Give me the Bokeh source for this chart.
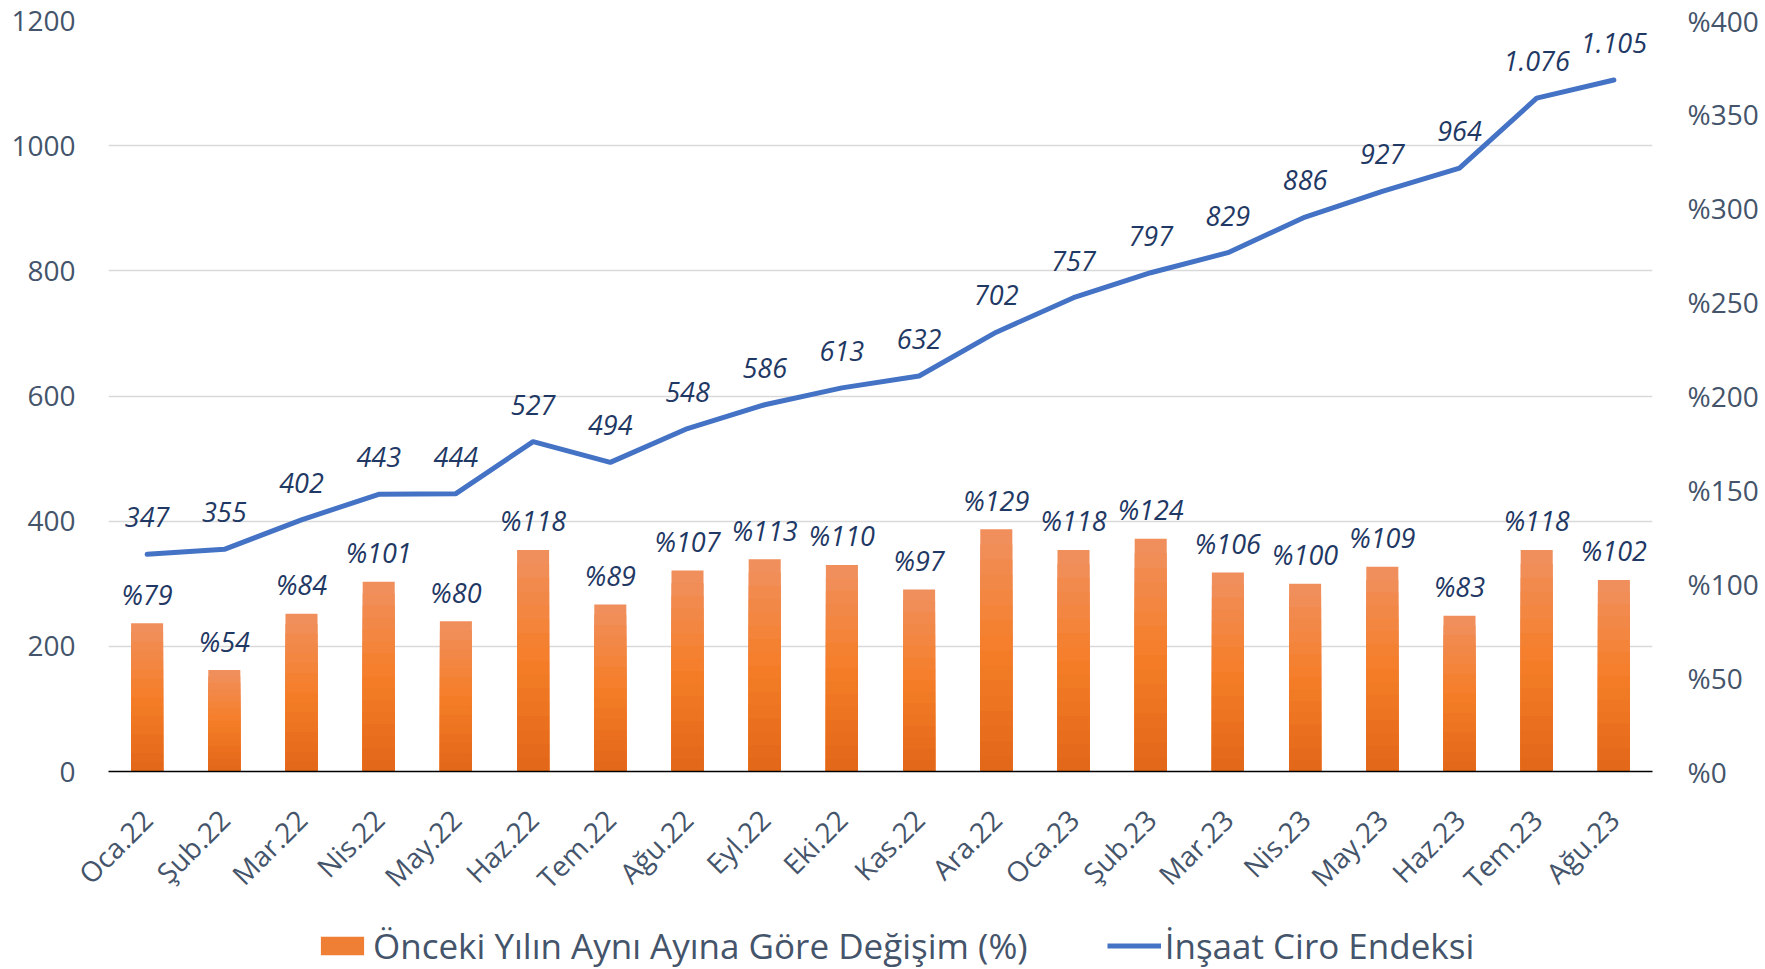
import math
from bokeh.plotting import figure
from bokeh.layouts import column
from bokeh.models import (Range1d, LinearAxis, FixedTicker, ColumnDataSource,
                          Legend, LegendItem, FactorRange)
from bokeh.core.properties import value
from bokeh.embed import file_html
from bokeh.resources import INLINE

# ---------------- data ----------------
categories = ["Oca.22", "Şub.22", "Mar.22", "Nis.22", "May.22", "Haz.22", "Tem.22",
              "Ağu.22", "Eyl.22", "Eki.22", "Kas.22", "Ara.22", "Oca.23", "Şub.23",
              "Mar.23", "Nis.23", "May.23", "Haz.23", "Tem.23", "Ağu.23"]
yoy_change_pct = [79, 54, 84, 101, 80, 118, 89, 107, 113, 110, 97, 129,
                  118, 124, 106, 100, 109, 83, 118, 102]
ciro_index = [347, 355, 402, 443, 444, 527, 494, 548, 586, 613, 632, 702,
              757, 797, 829, 886, 927, 964, 1076, 1105]
left_ticks = [0, 200, 400, 600, 800, 1000, 1200]
right_ticks = [0, 50, 100, 150, 200, 250, 300, 350, 400]
bar_series_name = "Önceki Yılın Aynı Ayına Göre Değişim (%)"
line_series_name = "İnşaat Ciro Endeksi"

FONT = "Open Sans"
AXIS_COLOR = "#44546A"
LABEL_COLOR = "#1F3864"
LINE_COLOR = "#4472C4"
BAR_LEGEND_COLOR = "#F07F36"


def tr_thousands(n):
    return f"{n:,}".replace(",", ".")


def lerp(c1, c2, t):
    return tuple(int(round(a + (b - a) * t)) for a, b in zip(c1, c2))


def hexc(c):
    return "#%02x%02x%02x" % c


W = 1765
BL, BR = 108, 113
p = figure(width=W, height=915, x_range=FactorRange(*categories),
           y_range=Range1d(0, 1200), output_backend="svg", toolbar_location=None,
           min_border_left=BL, min_border_right=BR, min_border_top=20,
           min_border_bottom=144)
p.outline_line_color = None
p.extra_y_ranges = {"pct": Range1d(0, 400)}

# ---------------- bars (gradient by overlapping bands) ----------------
N = 16
c_bottom = (226, 102, 24)
c_mid = (245, 126, 40)
c_top = (240, 144, 96)
for k in range(N - 1, -1, -1):
    t = (k + 0.5) / N  # 0 bottom, 1 top
    if t < 0.5:
        col = lerp(c_bottom, c_mid, t / 0.5)
    else:
        col = lerp(c_mid, c_top, (t - 0.5) / 0.5)
    src = ColumnDataSource(dict(x=categories,
                                top=[v * (k + 1) / N for v in yoy_change_pct]))
    p.vbar(x="x", top="top", bottom=0, width=0.415, source=src,
           y_range_name="pct", fill_color=hexc(col), line_color=None)

# ---------------- line ----------------
p.line(x=categories, y=ciro_index, line_color=LINE_COLOR, line_width=5,
       line_join="round", line_cap="round")

# ---------------- data labels ----------------
p.text(x=categories, y=ciro_index, text=[tr_thousands(v) for v in ciro_index],
       text_align="center", text_baseline="alphabetic", y_offset=-37,
       text_font=value(FONT), text_font_style="italic", text_font_size="27px",
       text_color=LABEL_COLOR)
p.text(x=categories, y=yoy_change_pct, y_range_name="pct",
       text=[f"%{v}" for v in yoy_change_pct],
       text_align="center", text_baseline="alphabetic", y_offset=-29,
       text_font=value(FONT), text_font_style="italic", text_font_size="27px",
       text_color=LABEL_COLOR)

# ---------------- axes ----------------
yl = p.yaxis[0]
yl.ticker = FixedTicker(ticks=left_ticks)
yl.axis_line_color = None
yl.major_tick_line_color = None
yl.minor_tick_line_color = None
yl.major_label_standoff = 27
yl.major_label_text_font = FONT
yl.major_label_text_font_size = "28px"
yl.major_label_text_color = AXIS_COLOR

yr = LinearAxis(y_range_name="pct", ticker=FixedTicker(ticks=right_ticks),
                major_label_overrides={v: f"%{v}" for v in right_ticks})
yr.axis_line_color = None
yr.major_tick_line_color = None
yr.minor_tick_line_color = None
yr.major_label_standoff = 29
yr.major_label_text_font = FONT
yr.major_label_text_font_size = "28px"
yr.major_label_text_color = AXIS_COLOR
p.add_layout(yr, "right")

xa = p.xaxis[0]
xa.axis_line_color = "black"
xa.axis_line_width = 1.5
xa.major_tick_line_color = None
xa.minor_tick_line_color = None
xa.major_label_orientation = math.pi / 4
xa.major_label_standoff = 37
xa.major_label_text_font = FONT
xa.major_label_text_font_size = "28px"
xa.major_label_text_color = AXIS_COLOR

p.xgrid.grid_line_color = None
p.ygrid.ticker = FixedTicker(ticks=left_ticks)
p.ygrid.grid_line_color = "#D9D9D9"
p.ygrid.grid_line_width = 1.5

# ---------------- legend (separate strip below the chart) ----------------
pl = figure(width=W, height=54, x_range=Range1d(0, 1), y_range=Range1d(0, 1),
            x_axis_type=None, y_axis_type=None, output_backend="svg",
            toolbar_location=None, min_border_left=BL, min_border_right=BR,
            min_border_top=0, min_border_bottom=0)
pl.outline_line_color = None
pl.grid.grid_line_color = None
leg_bar = pl.vbar(x=[-5], top=[-5], bottom=[-6], width=0.1,
                  fill_color=BAR_LEGEND_COLOR, line_color=None)
leg_line = pl.line(x=[-5, -4], y=[-5, -5], line_color=LINE_COLOR, line_width=5)
legend = Legend(items=[LegendItem(label=bar_series_name, renderers=[leg_bar]),
                       LegendItem(label=line_series_name, renderers=[leg_line])],
                orientation="horizontal", location=(207, 0),
                padding=0, margin=0, spacing=79, label_standoff=4,
                glyph_width=54, glyph_height=23, border_line_color=None,
                background_fill_alpha=0,
                label_text_font=FONT, label_text_font_size="35px",
                label_text_color=AXIS_COLOR)
pl.add_layout(legend, "center")

layout = column(p, pl, spacing=0)
open("out.html", "w").write(file_html(layout, INLINE))
